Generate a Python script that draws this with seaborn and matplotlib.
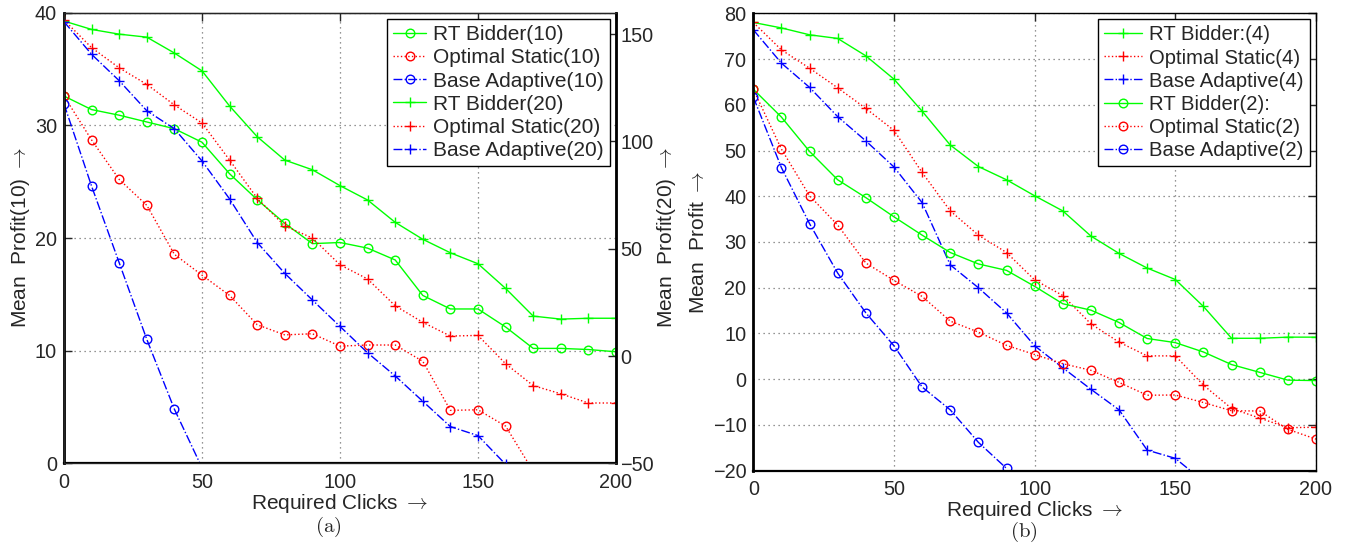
import matplotlib
matplotlib.use("Agg")
import matplotlib.pyplot as plt
import seaborn as sns
import numpy as np
from matplotlib.lines import Line2D

sns.set_style("white")
plt.rcParams['font.family'] = ['Liberation Sans', 'DejaVu Sans']
plt.rcParams['mathtext.fontset'] = 'cm'

# ---------------- data: panel (a) ----------------
clicks = [0, 10, 20, 30, 40, 50, 60, 70, 80, 90, 100, 110, 120, 130, 140, 150, 160, 170, 180, 190, 200]

rt10 = [32.6, 31.4, 30.9, 30.3, 29.7, 28.5, 25.7, 23.4, 21.3, 19.5, 19.6, 19.1, 18.05, 14.9, 13.7, 13.7, 12.1, 10.2, 10.2, 10.1, 9.9]
opt10 = [32.6, 28.7, 25.2, 22.9, 18.55, 16.7, 14.9, 12.3, 11.4, 11.5, 10.4, 10.5, 10.5, 9.05, 4.7, 4.75, 3.3, -0.7]
base10 = [31.9, 24.6, 17.8, 11.0, 4.8, -0.4]

rt20 = [156.1, 152.2, 150.0, 148.6, 141.2, 132.9, 116.5, 102.2, 91.3, 86.8, 79.4, 72.7, 62.3, 54.4, 48.1, 43.0, 31.5, 18.6, 17.2, 17.6, 17.6]
opt20 = [156.6, 143.7, 134.3, 126.6, 117.0, 108.6, 91.3, 73.5, 60.6, 55.0, 42.5, 35.9, 23.4, 15.7, 9.3, 9.6, -3.6, -13.8, -17.6, -21.9, -21.9]
base20 = [155.8, 140.6, 128.3, 114.3, 105.9, 90.9, 73.2, 52.9, 38.5, 26.1, 13.8, 1.5, -9.3, -21.1, -32.9, -37.1, -50.5]

# ---------------- data: panel (b) ----------------
rt4 = [78.0, 76.8, 75.3, 74.5, 70.7, 65.6, 58.6, 51.2, 46.5, 43.6, 40.1, 36.8, 31.3, 27.5, 24.3, 21.8, 15.9, 8.95, 8.95, 9.2, 9.2]
opt4 = [78.0, 72.0, 68.0, 63.7, 59.2, 54.4, 45.2, 36.8, 31.5, 27.7, 21.7, 18.3, 12.1, 8.1, 5.1, 5.1, -1.3, -6.4, -8.5, -10.6, -10.5]
base4 = [76.4, 69.1, 63.8, 57.4, 52.1, 46.4, 38.6, 25.0, 20.0, 14.5, 7.3, 2.5, -2.2, -6.7, -15.5, -17.3, -22.3]

rt2 = [63.4, 57.3, 49.8, 43.6, 39.7, 35.5, 31.5, 27.7, 25.2, 23.8, 20.3, 16.5, 15.1, 12.4, 8.9, 8.0, 5.95, 3.2, 1.5, -0.2, -0.3]
opt2 = [63.4, 50.3, 40.1, 33.7, 25.4, 21.6, 18.1, 12.7, 10.3, 7.4, 5.4, 3.4, 1.95, -0.7, -3.5, -3.45, -5.1, -6.9, -6.95, -10.95, -13.1]
base2 = [61.7, 46.25, 34.0, 23.2, 14.5, 7.3, -1.7, -6.7, -13.8, -19.5]

legend_a = ["RT Bidder(10)", "Optimal Static(10)", "Base Adaptive(10)",
            "RT Bidder(20)", "Optimal Static(20)", "Base Adaptive(20)"]
legend_b = ["RT Bidder:(4)", "Optimal Static(4)", "Base Adaptive(4)",
            "RT Bidder(2):", "Optimal Static(2)", "Base Adaptive(2)"]

GREEN = (0, 1, 0)
RED = (1, 0, 0)
BLUE = (0, 0, 1)
styles = [(GREEN, '-'), (RED, ':'), (BLUE, '-.')]

W, H = 1351, 544
fig = plt.figure(figsize=(W / 100, H / 100), dpi=100)

axA = fig.add_axes([64 / W, 1 - 463.3 / H, (616 - 64) / W, (463.3 - 12.7) / H])
axA2 = axA.twinx()
axB = fig.add_axes([753.3 / W, 1 - 470.7 / H, (1316 - 753.3) / W, (470.7 - 13.3) / H])

TICK_FS = 14.3
LAB_FS = 15
ARROW = r" $\rightarrow$"


def draw(ax, ys, color, ls, marker):
    xs = clicks[:len(ys)]
    ms = 6.2 if marker == 'o' else 7.0
    sns.lineplot(x=xs, y=ys, ax=ax, color=color, linestyle=ls, linewidth=1.0,
                 marker=marker, markersize=ms,
                 markerfacecolor='none', markeredgecolor=color,
                 markeredgewidth=1.0, legend=False)
    return Line2D([0], [0], color=color, linestyle=ls, linewidth=1.0, marker=marker,
                  markersize=ms, markerfacecolor='none', markeredgecolor=color,
                  markeredgewidth=1.0)


# ---- panel (a)
handles_a = []
for (c, ls), ys in zip(styles, [rt10, opt10, base10]):
    handles_a.append(draw(axA, ys, c, ls, 'o'))
for (c, ls), ys in zip(styles, [rt20, opt20, base20]):
    handles_a.append(draw(axA2, ys, c, ls, '+'))

axA.set_xlim(0, 200)
axA.set_ylim(0, 40)
axA.set_yticks([0, 10, 20, 30, 40])
axA.set_xticks([0, 50, 100, 150, 200])
axA2.set_ylim(-50, 160)
axA2.set_yticks([-50, 0, 50, 100, 150])

# ---- panel (b)
handles_b = []
for (c, ls), ys in zip(styles, [rt4, opt4, base4]):
    handles_b.append(draw(axB, ys, c, ls, '+'))
for (c, ls), ys in zip(styles, [rt2, opt2, base2]):
    handles_b.append(draw(axB, ys, c, ls, 'o'))

axB.set_xlim(0, 200)
axB.set_ylim(-20, 80)
axB.set_yticks(np.arange(-20, 81, 10))
axB.set_xticks([0, 50, 100, 150, 200])

for ax in (axA, axB):
    ax.grid(True, linestyle=(0, (1, 3)), color='0.45', linewidth=0.9)
    ax.tick_params(direction='in', length=6, labelsize=TICK_FS, top=True,
                   right=(ax is axB), width=1.0, pad=5)
    ax.tick_params(axis='x', pad=7)
    for s in ax.spines.values():
        s.set_color('black')
        s.set_linewidth(1.0)
    ax.spines['left'].set_linewidth(2.0)
    ax.spines['bottom'].set_linewidth(1.6)

axA.set_xlabel("Required Clicks" + ARROW, fontsize=LAB_FS, labelpad=0)
axB.set_xlabel("Required Clicks" + ARROW, fontsize=LAB_FS, labelpad=0)

axA2.tick_params(direction='in', length=6, labelsize=TICK_FS, width=1.0, pad=3)
axA2.spines['right'].set_linewidth(2.0)
axA2.spines['right'].set_color('black')
axA2.grid(False)

axA.set_ylabel("Mean  Profit(10)" + ARROW, fontsize=LAB_FS, labelpad=2)
axA2.set_ylabel("Mean  Profit(20)" + ARROW, fontsize=LAB_FS, labelpad=1)
axB.set_ylabel("Mean  Profit" + ARROW, fontsize=LAB_FS, labelpad=3)

legA = axA2.legend(handles_a, legend_a, loc='upper right', fontsize=15,
                   frameon=True, fancybox=False, edgecolor='black', framealpha=1,
                   borderpad=0.3, labelspacing=0.2, handlelength=1.6,
                   handletextpad=0.3, borderaxespad=0.3)
legA.get_frame().set_linewidth(1.0)
legB = axB.legend(handles_b, legend_b, loc='upper right', fontsize=14.6,
                  frameon=True, fancybox=False, edgecolor='black', framealpha=1,
                  borderpad=0.3, labelspacing=0.2, handlelength=1.9,
                  handletextpad=0.35, borderaxespad=0.3)
legB.get_frame().set_linewidth(1.0)

fig.text(328 / W, 1 - 527 / H, r"$\mathrm{(a)}$", fontsize=15, ha='center', va='center')
fig.text(1024 / W, 1 - 532 / H, r"$\mathrm{(b)}$", fontsize=15, ha='center', va='center')

fig.savefig("out.png", dpi=100)
